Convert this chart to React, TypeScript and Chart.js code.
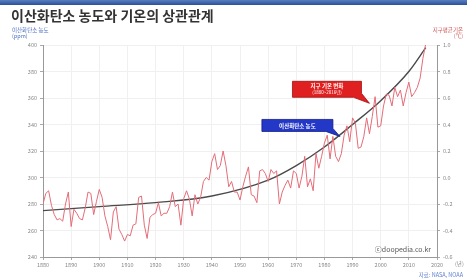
import React, { useEffect, useRef } from "react";
import { Chart, registerables } from "chart.js";

Chart.register(...registerables);

// Global mean temperature anomaly (°C), 1880–2016
const tempYears: number[] = [];
for (let y = 1880; y <= 2016; y++) tempYears.push(y);
const tempValues: number[] = [
  -0.2, -0.12, -0.1, -0.21, -0.28, -0.32, -0.31, -0.33, -0.2, -0.11,
  -0.37, -0.24, -0.27, -0.31, -0.32, -0.23, -0.11, -0.12, -0.28, -0.18,
  -0.09, -0.15, -0.29, -0.37, -0.47, -0.26, -0.22, -0.39, -0.43, -0.48,
  -0.43, -0.44, -0.36, -0.35, -0.15, -0.14, -0.36, -0.46, -0.3, -0.28,
  -0.27, -0.19, -0.29, -0.27, -0.27, -0.22, -0.11, -0.22, -0.2, -0.36,
  -0.16, -0.1, -0.16, -0.29, -0.13, -0.2, -0.15, -0.03, 0.0, -0.02,
  0.12, 0.18, 0.06, 0.09, 0.2, 0.09, -0.07, -0.03, -0.11, -0.11,
  -0.17, -0.07, 0.01, 0.08, -0.13, -0.14, -0.19, 0.05, 0.06, 0.03,
  -0.03, 0.06, 0.03, 0.05, -0.2, -0.11, -0.06, -0.02, -0.08, 0.05,
  0.03, -0.08, 0.01, 0.16, -0.07, -0.01, -0.1, 0.18, 0.07, 0.16,
  0.26, 0.32, 0.14, 0.31, 0.16, 0.12, 0.18, 0.32, 0.39, 0.27,
  0.45, 0.41, 0.22, 0.23, 0.31, 0.45, 0.33, 0.46, 0.61, 0.38,
  0.39, 0.54, 0.63, 0.62, 0.54, 0.68, 0.61, 0.66, 0.54, 0.64,
  0.72, 0.61, 0.64, 0.68, 0.75, 0.9, 1.01,
];

// CO2 concentration (ppm) – smooth curve samples
const co2Years = [1880, 1900, 1920, 1940, 1960, 1970, 1980, 1990, 2000, 2010, 2016];
const co2Values = [275, 278, 281, 286, 298, 309, 323, 340, 358, 380, 398];

const xTicks = { min: 1880, max: 2020, step: 10 };
const leftTicks = { min: 240, max: 400, step: 20 };
const rightTicks = { min: -0.6, max: 1.0, step: 0.2 };

const titleText = "이산화탄소 농도와 기온의 상관관계";
const leftAxisTitle = ["이산화탄소 농도", "(ppm)"];
const rightAxisTitle = ["지구평균기온", "(℃)"];
const tempLabel = ["지구 기온 변화", "(1880~2016년)"];
const co2Label = "이산화탄소 농도";
const watermark = "ⓒdoopedia.co.kr";
const sourceText = "자료: NASA, NOAA";

const FONT = "'Noto Sans CJK KR', 'Noto Sans', sans-serif";

const decorPlugin = {
  id: "decor",
  afterDraw(chart: any) {
    const ctx = chart.ctx;
    const area = chart.chartArea;
    const xs = chart.scales.x;
    const yl = chart.scales.y;
    const yr = chart.scales.y1;
    ctx.save();
    // top strip
    const g = ctx.createLinearGradient(0, 0, 0, 6);
    g.addColorStop(0, "#5a7fc0");
    g.addColorStop(1, "#1f4690");
    ctx.fillStyle = g;
    ctx.fillRect(0, 0, chart.width, 5);

    // title
    ctx.fillStyle = "#333";
    ctx.font = `bold 14px ${FONT}`;
    ctx.textBaseline = "middle";
    ctx.textAlign = "left";
    ctx.fillText(titleText, 11, 16);

    // axis titles
    ctx.font = `5.5px ${FONT}`;
    ctx.fillStyle = "#4a6fc0";
    ctx.fillText(leftAxisTitle[0], 12, 30);
    ctx.fillText(leftAxisTitle[1], 12, 36);
    ctx.textAlign = "right";
    ctx.fillStyle = "#d05a5a";
    ctx.fillText(rightAxisTitle[0], 463, 30);
    ctx.fillText(rightAxisTitle[1], 463, 36);

    // x unit
    ctx.fillStyle = "#888";
    ctx.textAlign = "left";
    ctx.fillText("(년)", 455, 264);

    // source
    ctx.textAlign = "right";
    ctx.fillStyle = "#5b7fcf";
    ctx.fillText(sourceText, 463, 275);

    // watermark
    ctx.font = `7px ${FONT}`;
    ctx.fillStyle = "#555";
    ctx.textAlign = "right";
    ctx.fillText(watermark, area.right - 6, area.bottom - 8);

    // temperature label (anchored to data)
    const tx = xs.getPixelForValue(1996);
    const ty = yr.getPixelForValue(0.56);
    const bx = tx - 77, by = ty - 22, bw = 69, bh = 16;
    ctx.fillStyle = "#e02020";
    ctx.strokeStyle = "#a01010";
    ctx.lineWidth = 0.8;
    ctx.beginPath();
    ctx.moveTo(bx, by);
    ctx.lineTo(bx + bw, by);
    ctx.lineTo(bx + bw, by + bh - 4);
    ctx.lineTo(tx, ty);
    ctx.lineTo(bx + bw - 8, by + bh);
    ctx.lineTo(bx, by + bh);
    ctx.closePath();
    ctx.fill();
    ctx.stroke();
    ctx.fillStyle = "#fff";
    ctx.textAlign = "center";
    ctx.font = `bold 5.5px ${FONT}`;
    ctx.fillText(tempLabel[0], bx + bw / 2, by + 5);
    ctx.font = `4.5px ${FONT}`;
    ctx.fillText(tempLabel[1], bx + bw / 2, by + 11);

    // CO2 label
    const cx = xs.getPixelForValue(1985.5);
    const cy = yl.getPixelForValue(331);
    const cbx = cx - 78, cby = cy - 17, cbw = 71, cbh = 12;
    ctx.fillStyle = "#2438c8";
    ctx.strokeStyle = "#101c80";
    ctx.beginPath();
    ctx.moveTo(cbx, cby);
    ctx.lineTo(cbx + cbw, cby);
    ctx.lineTo(cbx + cbw, cby + cbh - 3);
    ctx.lineTo(cx, cy);
    ctx.lineTo(cbx + cbw - 7, cby + cbh);
    ctx.lineTo(cbx, cby + cbh);
    ctx.closePath();
    ctx.fill();
    ctx.stroke();
    ctx.fillStyle = "#fff";
    ctx.font = `bold 5.5px ${FONT}`;
    ctx.fillText(co2Label, cbx + cbw / 2, cby + cbh / 2);
    ctx.restore();
  },
};

export default function App() {
  const ref = useRef<HTMLCanvasElement | null>(null);
  useEffect(() => {
    if (!ref.current) return;
    const tickFont = { size: 5.5, family: FONT };
    const chart = new Chart(ref.current, {
      type: "line",
      data: {
        datasets: [
          {
            label: "temp",
            data: tempYears.map((y, i) => ({ x: y, y: tempValues[i] })),
            borderColor: "#e36d78",
            borderWidth: 1,
            pointRadius: 0,
            yAxisID: "y1",
            tension: 0,
          },
          {
            label: "co2",
            data: co2Years.map((y, i) => ({ x: y, y: co2Values[i] })),
            borderColor: "#4a4a4a",
            borderWidth: 1.4,
            pointRadius: 0,
            yAxisID: "y",
            cubicInterpolationMode: "monotone",
          },
        ],
      },
      options: {
        responsive: false,
        animation: false,
        layout: { padding: { top: 45, left: 0, right: 0, bottom: 0 } },
        plugins: { legend: { display: false }, tooltip: { enabled: false } },
        scales: {
          x: {
            type: "linear",
            min: xTicks.min,
            max: xTicks.max,
            ticks: {
              stepSize: xTicks.step,
              font: tickFont,
              color: "#888",
              maxRotation: 0,
              padding: 2,
              callback: (v: any) => String(v),
            },
            grid: { color: "#f0f0f0", tickLength: 3, tickColor: "#aaa" },
            border: { color: "#999" },
            afterFit: (s: any) => { s.height = 22; },
          },
          y: {
            position: "left",
            min: leftTicks.min,
            max: leftTicks.max,
            ticks: { stepSize: leftTicks.step, font: tickFont, color: "#888", padding: 3 },
            grid: { color: "#f0f0f0", tickLength: 3, tickColor: "#aaa" },
            border: { color: "#999" },
            afterFit: (s: any) => { s.width = 43; },
          },
          y1: {
            position: "right",
            min: rightTicks.min,
            max: rightTicks.max,
            ticks: {
              stepSize: rightTicks.step,
              font: tickFont,
              color: "#888",
              padding: 3,
              callback: (v: any) => Number(v).toFixed(1),
            },
            grid: { drawOnChartArea: false, tickLength: 3, tickColor: "#aaa" },
            border: { color: "#999" },
            afterFit: (s: any) => { s.width = 30; },
          },
        },
      },
      plugins: [decorPlugin],
    } as any);
    return () => chart.destroy();
  }, []);
  return (
    <div style={{ position: "fixed", left: 0, top: 0, width: 467, height: 279, background: "#fff" }}>
      <canvas ref={ref} width={467} height={279} />
    </div>
  );
}
